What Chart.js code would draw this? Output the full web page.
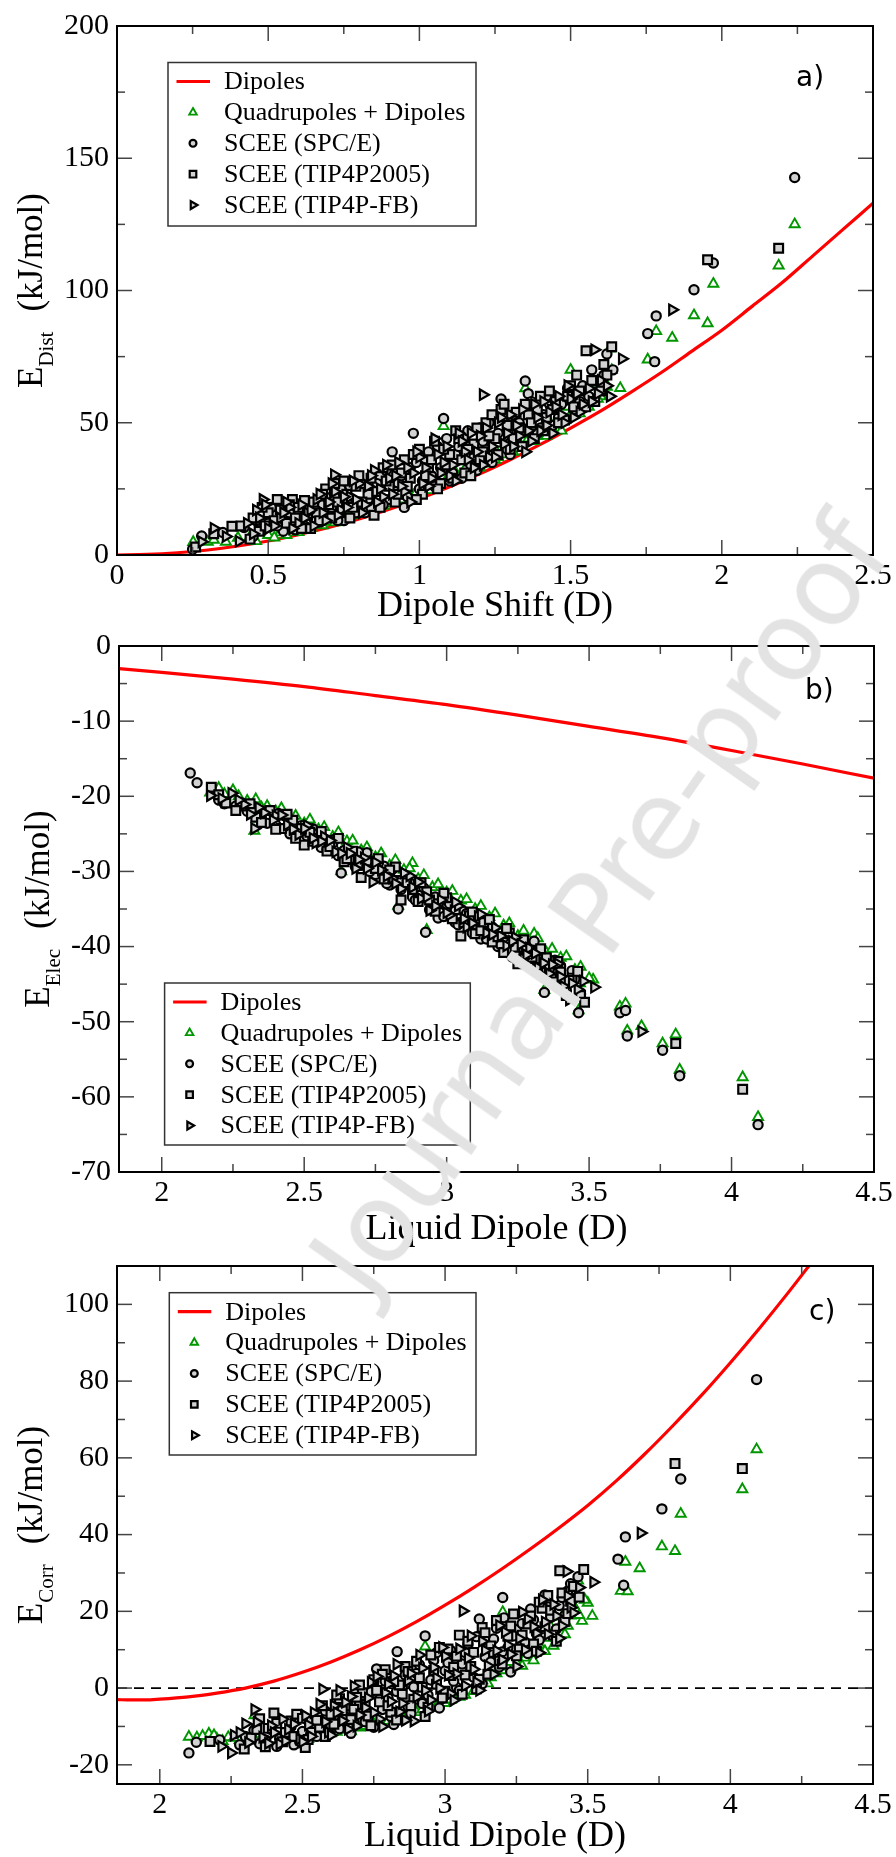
<!DOCTYPE html>
<html><head><meta charset="utf-8">
<script src="https://cdn.jsdelivr.net/npm/chart.js@4.4.1/dist/chart.umd.min.js"></script>
<style>
html,body{margin:0;padding:0;background:#fff;}
body{width:896px;height:1857px;position:relative;overflow:hidden;}
canvas{position:absolute;left:0;}
#wm{position:absolute;left:600px;top:905px;transform:translate(-50%,-50%) rotate(-55deg);font-family:'DejaVu Sans';font-size:110px;color:#e3e3e3;white-space:nowrap;pointer-events:none;line-height:1;z-index:5;}
</style></head>
<body>
<canvas id="ca"></canvas>
<canvas id="cb"></canvas>
<canvas id="cc"></canvas>
<div id="wm">Journal Pre-proof</div>
<script>
// ---------------- DATA ----------------
const seriesNames = ['Dipoles','Quadrupoles + Dipoles','SCEE (SPC/E)','SCEE (TIP4P2005)','SCEE (TIP4P-FB)'];
const panelLabels = ['a)','b)','c)'];
const xTitles = ['Dipole Shift (D)','Liquid Dipole (D)','Liquid Dipole (D)'];
const yTitleMain = ['E','E','E'];
const yTitleSub = ['Dist','Elec','Corr'];
const yTitleUnit = '(kJ/mol)';

const xTicksA = [0,0.5,1,1.5,2,2.5];
const yTicksA = [0,50,100,150,200];
const xTicksBC = [2,2.5,3,3.5,4,4.5];
const yTicksB = [0,-10,-20,-30,-40,-50,-60,-70];
const yTicksC = [-20,0,20,40,60,80,100];

// Panel a: dipole shift vs E_Dist
const dipolesA = [[0,0],[0.1,0.2],[0.2,0.85],[0.3,1.9],[0.4,3.4],[0.5,5.3],[0.6,7.7],[0.7,10.4],[0.8,13.6],[0.9,17.3],[1.0,21.3],[1.1,25.8],[1.2,30.7],[1.3,36],[1.4,41.8],[1.5,48],[1.6,54.5],[1.7,61.6],[1.8,69],[1.9,77],[2.0,85],[2.1,94],[2.2,103],[2.3,113],[2.4,123],[2.5,133]];
const quadA = [[0.252,4.9],[0.3,5],[0.32,5.7],[0.36,5],[0.4,6.5],[0.44,7],[0.48,18],[0.5,7.5],[0.54,8.5],[0.58,9.5],[0.62,10],[0.66,11.5],[0.7,12.5],[0.74,14],[0.78,15],[0.82,16],[0.86,18],[0.9,19.5],[0.94,21],[0.98,22.5],[1.0,24],[1.03,24.5],[1.06,26.5],[1.08,48.7],[1.1,28],[1.13,29],[1.16,31],[1.2,33],[1.23,34.5],[1.26,37],[1.28,38],[1.3,40],[1.33,42],[1.35,63],[1.36,44],[1.38,43],[1.4,46],[1.42,45],[1.45,48],[1.47,47],[1.5,53],[1.5,70],[1.52,55],[1.55,58],[1.57,62],[1.6,60],[1.62,63.6],[1.63,78],[1.636,69.9],[1.664,63.1],[1.755,73.9],[1.783,84.6],[1.836,82.1],[1.908,90.6],[1.953,87.6],[1.972,102.5],[2.188,109.4],[2.241,125],
  [0.46,5.2],[0.52,6.6],[0.56,7.5],[0.6,8.6],[0.64,10.2],[0.68,11.2],[0.72,12.3],[0.76,14.2],[0.8,15.5],[0.84,17.1],[0.88,18.6],[0.92,20.5],[0.96,22.4],[0.99,23.8],[1.02,26],[1.05,27.5],[1.09,28.7],[1.12,31.2],[1.15,32.4],[1.18,34.6],[1.22,36.5],[1.25,36],[1.27,40],[1.29,41.5],[1.31,39],[1.32,44.5],[1.34,45.6],[1.37,47],[1.39,45],[1.41,49],[1.43,50.5],[1.44,47.5],[1.46,52],[1.48,51],[1.49,56],[1.51,58],[1.53,53.5],[1.54,60],[1.56,56],[1.58,64.5],[1.59,59],[1.61,66]];
const spceA = [[0.25,2.2],[0.28,7.2],[0.35,8.5],[0.42,10.4],[0.45,7],[0.5,12],[0.52,15],[0.55,9],[0.58,13],[0.6,17],[0.62,11],[0.65,14],[0.68,19],[0.7,16],[0.72,22],[0.75,13],[0.77,26],[0.8,20],[0.82,16],[0.85,24],[0.87,30],[0.9,21],[0.91,39],[0.93,27],[0.95,18],[0.97,33],[0.98,46],[1.0,25],[1.02,36],[1.04,30],[1.06,41],[1.08,51.6],[1.1,28],[1.12,38],[1.15,44],[1.17,34],[1.2,48],[1.22,40],[1.25,52],[1.27,59],[1.28,45],[1.3,38],[1.33,50],[1.35,65.8],[1.36,61],[1.38,55],[1.4,48],[1.43,57],[1.46,52],[1.5,62],[1.53,58],[1.57,70],[1.6,65],[1.62,76],[1.64,70],[1.755,83.7],[1.778,73.1],[1.783,90.4],[1.908,100.3],[1.972,110.4],[2.241,142.7],
  [0.46,13],[0.48,9.5],[0.51,18],[0.53,11],[0.57,16],[0.59,9.5],[0.61,14],[0.63,19],[0.67,12.5],[0.69,22],[0.71,18],[0.73,13],[0.74,25],[0.76,20],[0.79,16],[0.81,27],[0.83,21],[0.84,18],[0.86,27],[0.88,19],[0.89,32],[0.92,24],[0.94,30],[0.96,22],[0.99,35],[1.01,28],[1.03,39],[1.05,26],[1.07,33],[1.09,44],[1.11,31],[1.13,41],[1.14,29],[1.16,47],[1.18,37],[1.19,32],[1.21,43],[1.23,50],[1.24,35],[1.26,46],[1.29,40],[1.31,53],[1.32,44],[1.34,48],[1.37,58],[1.39,46],[1.41,53],[1.42,60],[1.44,49],[1.47,57],[1.49,63],[1.51,55],[1.54,64],[1.56,60],[1.58,66],[1.61,68]];
const tip4p2005A = [[0.26,3],[0.32,8],[0.38,10.9],[0.41,11],[0.44,6],[0.47,9],[0.5,16],[0.53,21],[0.56,12],[0.58,21],[0.6,18],[0.62,20.6],[0.64,10],[0.66,16],[0.69,25],[0.71,14],[0.73,20],[0.75,28],[0.78,18],[0.8,30],[0.83,23],[0.85,15],[0.88,33],[0.9,26],[0.92,20],[0.95,36],[0.97,29],[1.0,40],[1.01,23],[1.03,33],[1.05,43],[1.07,27],[1.1,38],[1.12,47],[1.15,31],[1.18,42],[1.2,36],[1.22,50],[1.25,44],[1.27,55],[1.28,57],[1.3,40],[1.33,48],[1.36,53],[1.38,44],[1.4,60],[1.42,52],[1.45,58],[1.48,51],[1.5,64],[1.52,68],[1.55,56],[1.551,77.2],[1.6,62],[1.62,68],[1.636,78.7],[1.953,111.6],[2.188,116],
  [0.45,14],[0.48,18],[0.49,11],[0.52,13],[0.54,17],[0.57,19],[0.59,14],[0.61,10],[0.63,15],[0.65,20],[0.67,13],[0.68,23],[0.7,19],[0.72,27],[0.74,16],[0.76,23],[0.77,14],[0.79,26],[0.81,20],[0.84,29],[0.86,24],[0.87,18],[0.89,28],[0.91,34],[0.93,23],[0.94,31],[0.96,26],[0.98,38],[0.99,21],[1.02,30],[1.04,36],[1.06,25],[1.08,40],[1.09,34],[1.11,29],[1.13,44],[1.14,36],[1.16,40],[1.17,30],[1.19,48],[1.21,39],[1.23,45],[1.24,53],[1.26,38],[1.29,49],[1.31,44],[1.32,54],[1.34,41],[1.35,57],[1.37,50],[1.39,55],[1.41,47],[1.43,62],[1.44,55],[1.46,50],[1.49,60],[1.51,56],[1.53,62],[1.57,66],[1.58,58],[1.61,72]];
const tip4pfbA = [[0.28,5],[0.32,10.1],[0.36,7],[0.403,5.2],[0.43,12],[0.46,17],[0.482,21],[0.5,10],[0.54,14],[0.57,18],[0.6,12],[0.63,16],[0.66,21],[0.69,13],[0.718,30.3],[0.72,24],[0.74,17],[0.77,22],[0.8,27],[0.82,19],[0.85,32],[0.88,22],[0.9,29],[0.93,35],[0.95,24],[0.98,31],[1.0,37],[1.03,26],[1.05,44],[1.08,35],[1.1,30],[1.13,46],[1.15,39],[1.18,33],[1.2,45],[1.21,60.6],[1.23,37],[1.26,50],[1.28,42],[1.3,53],[1.33,45],[1.35,39],[1.38,57],[1.4,47],[1.43,54],[1.46,60],[1.48,50],[1.5,59],[1.53,54],[1.56,63],[1.579,77.6],[1.6,66],[1.63,60],[1.67,74.2],[1.836,92.7],
  [0.45,8],[0.47,14],[0.49,19],[0.52,11],[0.55,16],[0.56,20],[0.58,10],[0.61,19],[0.62,14],[0.64,17],[0.65,11],[0.67,23],[0.68,16],[0.7,20],[0.71,27],[0.73,15],[0.75,22],[0.76,18],[0.78,28],[0.79,21],[0.81,16],[0.83,26],[0.84,30],[0.86,20],[0.87,25],[0.89,34],[0.91,23],[0.92,30],[0.94,26],[0.96,33],[0.97,20],[0.99,39],[1.01,27],[1.02,33],[1.04,29],[1.06,38],[1.07,31],[1.09,41],[1.11,34],[1.12,28],[1.14,43],[1.16,36],[1.17,46],[1.19,39],[1.21,34],[1.22,48],[1.24,41],[1.25,37],[1.27,52],[1.29,46],[1.31,41],[1.32,49],[1.34,55],[1.36,47],[1.37,43],[1.39,52],[1.41,58],[1.42,49],[1.44,46],[1.45,56],[1.47,53],[1.49,64],[1.51,52],[1.52,61],[1.54,57],[1.57,58],[1.59,61],[1.62,64]];

// Panel b: liquid dipole vs E_Elec
const dipolesB = [[1.85,-3.0],[2.0,-3.5],[2.25,-4.4],[2.5,-5.4],[2.75,-6.6],[3.0,-7.8],[3.25,-9.2],[3.5,-10.7],[3.75,-12.2],[4.0,-13.9],[4.25,-15.7],[4.5,-17.6]];
const quadB = [[2.17,-19.5],[2.25,-19.2],[2.3,-20.6],[2.325,-24.6],[2.35,-21.5],[2.4,-22],[2.45,-22.8],[2.5,-23.6],[2.55,-24.4],[2.6,-25.4],[2.63,-30],[2.65,-26],[2.7,-27.2],[2.75,-28.1],[2.8,-29.2],[2.83,-34.6],[2.85,-29.8],[2.88,-28.9],[2.9,-31],[2.93,-37.8],[2.95,-32.1],[3.0,-32.8],[3.05,-33.9],[3.1,-35],[3.15,-36.1],[3.2,-37.2],[3.25,-38.6],[3.3,-39.6],[3.307,-38.3],[3.343,-45.8],[3.35,-40.8],[3.4,-41.5],[3.45,-43.1],[3.463,-48.5],[3.468,-44.9],[3.514,-44.4],[3.608,-48],[3.628,-47.6],[3.634,-51.2],[3.684,-50.6],[3.758,-52.9],[3.804,-51.7],[3.818,-56.4],[4.039,-57.4],[4.093,-62.7],
  [2.2,-18.9],[2.22,-19.7],[2.27,-20],[2.33,-20.4],[2.37,-21.3],[2.42,-21.6],[2.47,-22.6],[2.52,-23.1],[2.57,-24.1],[2.62,-24.8],[2.67,-25.9],[2.72,-26.8],[2.77,-27.6],[2.82,-28.5],[2.87,-29.6],[2.92,-30.5],[2.97,-31.7],[3.02,-32.6],[3.07,-33.7],[3.12,-34.6],[3.17,-35.6],[3.22,-36.9],[3.27,-37.9],[3.32,-38.9],[3.37,-40.3],[3.42,-41.3],[3.47,-42.7],[3.5,-44.2]];
const spceB = [[2.10,-16.9],[2.124,-18.2],[2.2,-20.5],[2.26,-21.3],[2.3,-22],[2.35,-22.5],[2.4,-23.8],[2.43,-22.6],[2.47,-24.6],[2.5,-25.8],[2.53,-24.3],[2.56,-26.8],[2.6,-25.8],[2.62,-27.9],[2.63,-30.2],[2.66,-28.4],[2.7,-29.2],[2.72,-27.5],[2.75,-30.4],[2.78,-29.3],[2.8,-31.8],[2.83,-35],[2.85,-31.2],[2.88,-33.4],[2.9,-32],[2.926,-38.1],[2.95,-33.8],[2.97,-36.2],[3.0,-34.7],[3.03,-36.8],[3.06,-35.3],[3.1,-37.5],[3.12,-39],[3.15,-37.2],[3.18,-40],[3.2,-38.8],[3.23,-41.4],[3.26,-40.1],[3.3,-42.5],[3.307,-39.3],[3.33,-43.5],[3.343,-46.1],[3.37,-44.2],[3.4,-42.6],[3.42,-45.8],[3.45,-44.3],[3.463,-48.8],[3.608,-48.8],[3.628,-48.5],[3.634,-51.9],[3.758,-53.8],[3.818,-57.2],[4.093,-63.7],
  [2.22,-21],[2.28,-20.9],[2.32,-21.7],[2.37,-23.6],[2.41,-22.3],[2.45,-25],[2.49,-23.9],[2.51,-25.3],[2.55,-24.9],[2.58,-27.1],[2.61,-25.7],[2.64,-27.2],[2.68,-29.4],[2.69,-27.4],[2.73,-30],[2.76,-28.9],[2.79,-31.6],[2.81,-29.7],[2.84,-32.4],[2.87,-31.5],[2.89,-33.8],[2.92,-32.2],[2.94,-35.1],[2.96,-33.4],[2.99,-36],[3.01,-34.3],[3.04,-37.1],[3.07,-35.6],[3.09,-38.2],[3.11,-36.6],[3.14,-39],[3.16,-37.4],[3.19,-39.8],[3.21,-38.3],[3.24,-40.9],[3.27,-39.5],[3.29,-42.1],[3.32,-40.6],[3.35,-43],[3.38,-41.8],[3.41,-44.5],[3.44,-43.2],[3.47,-46.3]];
const tip4p2005B = [[2.174,-18.8],[2.225,-20.9],[2.28,-21.3],[2.33,-22.8],[2.38,-21.9],[2.42,-24.3],[2.46,-23.2],[2.5,-26.5],[2.52,-24.8],[2.55,-25.6],[2.58,-27.3],[2.6,-26.1],[2.64,-28.7],[2.67,-27.3],[2.7,-30.8],[2.73,-29],[2.76,-28.3],[2.79,-30.2],[2.82,-29.4],[2.84,-33.8],[2.86,-31.5],[2.9,-34],[2.93,-32.7],[2.96,-35.3],[3.0,-33.5],[3.02,-36.3],[3.05,-38.6],[3.08,-35.9],[3.1,-38.3],[3.13,-36.8],[3.16,-39.4],[3.2,-40.8],[3.22,-38.2],[3.25,-42.3],[3.28,-40.5],[3.31,-41.6],[3.35,-41.5],[3.38,-44.7],[3.4,-43.4],[3.42,-46.5],[3.44,-44.2],[3.47,-46.5],[3.484,-47.4],[3.804,-52.9],[4.039,-59],
  [2.2,-19.8],[2.26,-21.9],[2.31,-21],[2.35,-23.5],[2.4,-24.4],[2.44,-22.4],[2.47,-25.6],[2.49,-24.3],[2.53,-26],[2.56,-24.7],[2.59,-26.7],[2.62,-25.6],[2.65,-28.3],[2.69,-28.9],[2.72,-28.6],[2.75,-29.6],[2.78,-31],[2.8,-29.8],[2.83,-31.2],[2.88,-32.4],[2.91,-31.5],[2.94,-33.8],[2.97,-34.3],[2.99,-32.9],[3.03,-35.1],[3.06,-36.8],[3.09,-35.4],[3.12,-37.9],[3.15,-36.4],[3.18,-38.7],[3.21,-37.6],[3.24,-40.1],[3.27,-39.1],[3.3,-41.4],[3.33,-40.3],[3.36,-42.9],[3.39,-42],[3.43,-44.5],[3.46,-43.3]];
const tip4pfbB = [[2.17,-19.9],[2.245,-19.6],[2.29,-21.1],[2.325,-24.3],[2.36,-22.2],[2.4,-22.6],[2.44,-23.8],[2.48,-25.1],[2.51,-23.9],[2.54,-26.2],[2.57,-25.4],[2.61,-27.4],[2.65,-26.8],[2.68,-29.6],[2.71,-28.2],[2.74,-31.4],[2.77,-29.8],[2.81,-30.9],[2.84,-32.3],[2.87,-30.6],[2.91,-33.6],[2.94,-35.2],[2.98,-33.8],[3.01,-35.8],[3.04,-34.6],[3.07,-37.4],[3.11,-36],[3.14,-38.2],[3.17,-37.5],[3.21,-39.9],[3.24,-38.8],[3.27,-41.6],[3.29,-40.2],[3.32,-42.8],[3.36,-43.6],[3.39,-42.3],[3.41,-45.3],[3.43,-47.1],[3.46,-45.7],[3.518,-45.4],[3.684,-51.3],
  [2.21,-20.3],[2.27,-20.5],[2.31,-22.4],[2.34,-21.5],[2.39,-23.2],[2.42,-22.5],[2.46,-24.4],[2.5,-24.3],[2.53,-25.6],[2.56,-26],[2.59,-25.9],[2.63,-27.6],[2.66,-27.6],[2.69,-28.4],[2.72,-29.6],[2.75,-28.8],[2.79,-30.6],[2.82,-31.6],[2.85,-30.2],[2.88,-32.1],[2.9,-31.4],[2.93,-33.4],[2.96,-34.6],[3.0,-35.5],[3.03,-34.1],[3.06,-36.3],[3.09,-36.9],[3.12,-35.7],[3.16,-38.4],[3.19,-38.6],[3.23,-39.3],[3.26,-39.7],[3.28,-41.1],[3.31,-40.9],[3.34,-42.2],[3.37,-42.4],[3.4,-44],[3.44,-44.9],[3.48,-44.6]];

// Panel c: liquid dipole vs E_Corr
const dipolesC = [[1.85,-3.0],[1.9,-3.1],[1.95,-3.1],[2.0,-2.9],[2.1,-2.3],[2.2,-1.3],[2.3,0.0],[2.4,1.8],[2.5,4.1],[2.6,6.8],[2.7,9.9],[2.8,13.4],[2.9,17.3],[3.0,21.6],[3.1,26.2],[3.2,31.1],[3.3,36.3],[3.4,41.8],[3.5,47.6],[3.6,54.0],[3.7,61.0],[3.8,68.5],[3.9,76.4],[4.0,84.8],[4.1,93.6],[4.2,102.8],[4.3,112.4]];
const zeroLineC = [[1.85,0],[4.5,0]];
const quadC = [[2.102,-12.7],[2.13,-12.9],[2.172,-11.9],[2.2,-13.2],[2.24,-12.8],[2.28,-13.6],[2.332,-7.1],[2.35,-13.8],[2.4,-13.4],[2.45,-13.5],[2.5,-12.8],[2.55,-12.2],[2.6,-11.8],[2.65,-10.9],[2.7,-10.3],[2.75,-9.3],[2.8,-8.6],[2.85,-7.4],[2.9,-6.3],[2.93,10.8],[2.95,-5],[3.0,-3.9],[3.05,-2.3],[3.1,-0.8],[3.15,1.2],[3.18,3.8],[3.202,19.8],[3.22,5.2],[3.25,6.6],[3.28,7.9],[3.3,9.5],[3.33,11.3],[3.36,13.1],[3.38,11],[3.4,15.8],[3.42,14],[3.44,18.9],[3.46,20.2],[3.466,28],[3.48,17.5],[3.5,22.2],[3.516,18.8],[3.616,25.3],[3.632,32.9],[3.64,25.2],[3.682,31.2],[3.76,36.9],[3.806,35.7],[3.826,45.4],[4.042,51.8],[4.092,62.2],
  [2.15,-12.5],[2.19,-12.3],[2.22,-13.8],[2.26,-13],[2.3,-13.4],[2.33,-12.9],[2.37,-14.2],[2.42,-13.8],[2.47,-13],[2.52,-13.3],[2.57,-12.6],[2.62,-11.4],[2.67,-11.3],[2.72,-9.9],[2.77,-9.6],[2.82,-8],[2.87,-7.6],[2.92,-5.6],[2.97,-4.8],[3.02,-3],[3.07,-1.8],[3.12,0.3],[3.13,2],[3.16,2.8],[3.2,4.6],[3.23,6.8],[3.27,5.8],[3.29,10.8],[3.31,7.2],[3.34,13.9],[3.35,9.6],[3.37,16],[3.39,13],[3.41,18.6],[3.43,16.2],[3.45,21.6],[3.47,19],[3.49,23]];
const spceC = [[2.102,-16.9],[2.128,-14.1],[2.21,-13.5],[2.28,-14.8],[2.33,-11],[2.37,-13.5],[2.41,-15.2],[2.44,-12.2],[2.47,-14.8],[2.5,-11.3],[2.52,-8.5],[2.55,-12.6],[2.58,-6],[2.6,-9.8],[2.62,-3.4],[2.65,-7.5],[2.67,-11.8],[2.7,-4.2],[2.72,-8.8],[2.74,-1],[2.76,5],[2.78,-5.6],[2.8,-2.5],[2.82,-9.5],[2.832,9.5],[2.85,0.5],[2.87,-4.8],[2.9,3.8],[2.93,13.6],[2.94,-1.8],[2.96,7.2],[2.98,-5.2],[3.0,4.5],[3.02,9.8],[3.04,0.2],[3.06,6.3],[3.08,11.5],[3.1,2.8],[3.12,18],[3.14,8.2],[3.17,12.8],[3.19,5.5],[3.202,23.6],[3.206,18.3],[3.22,10.5],[3.25,15.2],[3.28,12],[3.3,20.6],[3.32,14.2],[3.35,24.3],[3.37,18.6],[3.4,21.5],[3.43,25.3],[3.45,23.3],[3.466,29],[3.606,33.6],[3.626,26.8],[3.632,39.4],[3.76,46.7],[3.826,54.5],[4.092,80.4],
  [2.3,-12.6],[2.35,-14.5],[2.39,-10.8],[2.42,-13.2],[2.46,-10],[2.49,-13.9],[2.53,-12],[2.56,-9.2],[2.59,-12.3],[2.61,-7.4],[2.63,-10.6],[2.66,-4.6],[2.68,-9],[2.71,-1.8],[2.73,-6.6],[2.75,-10.2],[2.77,-2.9],[2.79,1.8],[2.81,-7.4],[2.83,-0.9],[2.86,3.4],[2.88,-6.6],[2.89,0.3],[2.91,6.1],[2.92,-4],[2.95,2.1],[2.97,9.2],[2.99,-2.7],[3.01,6.6],[3.03,1.8],[3.05,-0.6],[3.07,9.3],[3.09,4.6],[3.11,13.4],[3.13,1.1],[3.15,10.6],[3.16,6.8],[3.18,15.6],[3.2,9.4],[3.23,4.2],[3.24,13.6],[3.27,16.8],[3.29,9],[3.31,17.8],[3.33,12.5],[3.36,21.2],[3.39,15.4],[3.41,23.6],[3.42,19],[3.44,27.2]];
const tip4p2005C = [[2.176,-13.9],[2.296,-15.9],[2.32,-13],[2.35,-8],[2.38,-10.5],[2.4,-6.5],[2.43,-14],[2.46,-8.6],[2.48,-6.8],[2.51,-15.5],[2.53,-11.5],[2.56,-10.2],[2.6,-6.8],[2.63,-2.8],[2.66,-9.7],[2.68,-5.5],[2.71,-1.2],[2.73,-7.3],[2.75,2.2],[2.77,-3.6],[2.79,4.8],[2.81,-6.3],[2.84,0.8],[2.86,5.6],[2.89,-2.9],[2.91,2.7],[2.93,-7.4],[2.95,8.6],[2.97,1],[3.0,-0.8],[3.01,10.2],[3.03,5.4],[3.05,13.8],[3.07,3.4],[3.1,9.3],[3.12,2.3],[3.13,15.8],[3.16,11],[3.19,7.2],[3.22,13.5],[3.24,19.3],[3.26,10.2],[3.29,16.7],[3.31,11.5],[3.34,20.8],[3.36,24.1],[3.38,13.8],[3.402,30.6],[3.42,17.4],[3.44,22.6],[3.47,23.7],[3.486,30.9],[3.806,58.5],[4.042,57.2],
  [2.34,-10.8],[2.37,-15.3],[2.41,-9.2],[2.44,-11.6],[2.47,-12.6],[2.5,-7.9],[2.52,-13.4],[2.55,-8.4],[2.57,-4.6],[2.58,-12.6],[2.61,-9.4],[2.62,-1.8],[2.64,-5.9],[2.67,-8.2],[2.69,-2.4],[2.7,0.8],[2.72,-4.4],[2.74,-9.8],[2.76,-0.6],[2.78,3.6],[2.8,-4.6],[2.82,1.7],[2.83,-8.3],[2.85,-1.6],[2.87,4.3],[2.88,-4.6],[2.9,7],[2.92,0.2],[2.94,-5],[2.96,4.6],[2.98,10.6],[2.99,-2.6],[3.02,3.3],[3.04,8.3],[3.06,-1.6],[3.08,12.2],[3.09,5.6],[3.11,-0.2],[3.14,14.4],[3.15,3.6],[3.17,9.3],[3.18,17.6],[3.2,6.3],[3.23,16.2],[3.25,8.4],[3.27,13.8],[3.3,18.8],[3.32,9.6],[3.33,22.4],[3.35,16],[3.37,20.3],[3.39,12.2],[3.41,24.8],[3.43,19.4],[3.45,26.5]];
const tip4pfbC = [[2.216,-15.2],[2.25,-16.9],[2.26,-12.3],[2.3,-9.3],[2.332,-5.6],[2.36,-12.8],[2.39,-9.8],[2.42,-14.6],[2.45,-10.8],[2.49,-13.3],[2.52,-9.6],[2.54,-6.4],[2.57,-0.3],[2.59,-11.5],[2.61,-4.6],[2.64,-8.5],[2.67,-2.2],[2.69,-9.9],[2.72,-5.1],[2.74,1.5],[2.77,-8.1],[2.79,-1.2],[2.82,3.2],[2.84,-6.2],[2.87,1.9],[2.89,-8.6],[2.92,5.2],[2.95,-3.1],[2.97,2.6],[3.0,8.3],[3.02,-1.5],[3.04,3.7],[3.062,20.1],[3.08,7.8],[3.11,1.5],[3.13,12.2],[3.15,5.8],[3.18,9.7],[3.21,14.6],[3.23,8.8],[3.26,12.9],[3.29,18],[3.32,14.3],[3.35,17.2],[3.38,21.8],[3.41,16.2],[3.426,30.4],[3.44,21],[3.47,26.2],[3.52,27.6],[3.686,40.4],
  [2.28,-11.6],[2.31,-14.2],[2.34,-8.9],[2.38,-14.4],[2.4,-11.6],[2.43,-8.1],[2.44,-13.8],[2.47,-9.4],[2.5,-14],[2.51,-7.2],[2.53,-12.6],[2.56,-4.2],[2.58,-8.8],[2.6,-12.3],[2.62,-6.4],[2.63,-0.6],[2.65,-3.7],[2.66,-10.7],[2.68,0.5],[2.7,-7],[2.73,-2.6],[2.75,-6.4],[2.76,3],[2.78,-10],[2.8,1],[2.81,-3.5],[2.83,6.2],[2.85,-4],[2.86,-8.4],[2.88,3.8],[2.9,-2.3],[2.91,8.6],[2.93,-0.6],[2.94,-6],[2.96,5.4],[2.98,0],[2.99,10.6],[3.01,3.4],[3.03,-3.2],[3.05,10.2],[3.07,0.6],[3.09,13.6],[3.1,4.9],[3.12,-0.6],[3.14,9.8],[3.17,3.6],[3.19,16.3],[3.2,7.4],[3.22,11.2],[3.25,5.6],[3.27,19.8],[3.28,10],[3.31,16],[3.33,9.2],[3.34,23],[3.36,14],[3.39,18.8],[3.4,13],[3.43,24],[3.45,19.6]];

// ---------------- STYLE ----------------
const RED = '#ff0000', GREEN = 'rgb(0,150,0)', FILL = '#d2d2d2';
const SERIF = "'Liberation Serif','Times New Roman',serif";
const styles = [
  {kind:'line'},
  {pointStyle:'triangle', radius:5.8, rotation:0, borderColor:GREEN, backgroundColor:'#ffffff', borderWidth:1.9},
  {pointStyle:'circle', radius:4.6, rotation:0, borderColor:'#000', backgroundColor:FILL, borderWidth:2.2},
  {pointStyle:'rect', radius:6.2, rotation:0, borderColor:'#000', backgroundColor:FILL, borderWidth:2.2},
  {pointStyle:'triangle', radius:6, rotation:90, borderColor:'#000', backgroundColor:FILL, borderWidth:2.2}
];

function scatterDs(i, data) {
  const s = styles[i];
  return {label:seriesNames[i], data, showLine:false, pointStyle:s.pointStyle, pointRadius:s.radius,
    pointRotation:s.rotation, pointBorderColor:s.borderColor, pointBackgroundColor:s.backgroundColor,
    pointBorderWidth:s.borderWidth, order:5-i};
}
function lineDs(data) {
  return {label:seriesNames[0], data, showLine:true, pointRadius:0, borderColor:RED, borderWidth:3.2,
    cubicInterpolationMode:'monotone', fill:false, order:9};
}

const decor = {
  id:'decor',
  afterDatasetsDraw(chart, args, o) {
    const ctx = chart.ctx, a = chart.chartArea;
    const xs = chart.scales.x, ys = chart.scales.y;
    ctx.save();
    ctx.strokeStyle = '#444'; ctx.lineWidth = 1.5;
    const seg = (x1,y1,x2,y2) => {ctx.beginPath(); ctx.moveTo(x1,y1); ctx.lineTo(x2,y2); ctx.stroke();};
    const xMaj = o.xMajor, yMaj = o.yMajor;
    const eps = 1e-9;
    for (let v = Math.ceil(xs.min/o.xMinor - eps)*o.xMinor; v <= xs.max + eps; v += o.xMinor) {
      const isMaj = xMaj.some(m => Math.abs(m - v) < 1e-6);
      const len = isMaj ? 15 : 8;
      const px = xs.getPixelForValue(v);
      seg(px, a.bottom, px, a.bottom - len); seg(px, a.top, px, a.top + len);
    }
    for (let v = Math.ceil(ys.min/o.yMinor - eps)*o.yMinor; v <= ys.max + eps; v += o.yMinor) {
      const isMaj = yMaj.some(m => Math.abs(m - v) < 1e-6);
      const len = isMaj ? 15 : 8;
      const py = ys.getPixelForValue(v);
      seg(a.left, py, a.left + len, py); seg(a.right, py, a.right - len, py);
    }
    ctx.strokeStyle = '#000'; ctx.lineWidth = 2;
    ctx.strokeRect(a.left, a.top, a.right - a.left, a.bottom - a.top);
    // legend
    const L = o.legend;
    ctx.fillStyle = '#fff'; ctx.fillRect(L.x, L.y, L.w, L.h);
    ctx.strokeStyle = '#333'; ctx.lineWidth = 1.5; ctx.strokeRect(L.x, L.y, L.w, L.h);
    ctx.font = '26px ' + SERIF; ctx.textBaseline = 'middle'; ctx.textAlign = 'left';
    for (let i = 0; i < seriesNames.length; i++) {
      const ry = L.y + 19 + 30.9*i;
      if (i === 0) {
        ctx.strokeStyle = RED; ctx.lineWidth = 3.2; seg(L.x + 8.5, ry, L.x + 42, ry);
      } else {
        const s = styles[i];
        ctx.strokeStyle = s.borderColor; ctx.fillStyle = s.backgroundColor; ctx.lineWidth = s.borderWidth;
        Chart.helpers.drawPoint(ctx, {pointStyle:s.pointStyle, radius:s.radius*0.75, rotation:s.rotation, borderWidth:s.borderWidth}, L.x + 25, ry);
      }
      ctx.fillStyle = '#000';
      ctx.fillText(seriesNames[i], L.x + 56, ry + 1);
    }
    // y title with subscript
    const T = o.ytitle;
    const cy = (a.top + a.bottom)/2;
    ctx.translate(T.x, cy); ctx.rotate(-Math.PI/2);
    const fMain = '35px ' + SERIF, fSub = '21px ' + SERIF;
    ctx.font = fMain; const wE = ctx.measureText(T.main).width; const wU = ctx.measureText(yTitleUnit).width;
    ctx.font = fSub; const wS = ctx.measureText(T.sub).width;
    const gap = 20, total = wE + wS + gap + wU;
    let x0 = -total/2;
    ctx.fillStyle = '#000'; ctx.textBaseline = 'alphabetic';
    ctx.font = fMain; ctx.fillText(T.main, x0, 0);
    ctx.font = fSub; ctx.fillText(T.sub, x0 + wE, 11);
    ctx.font = fMain; ctx.fillText(yTitleUnit, x0 + wE + wS + gap, 0);
    ctx.setTransform(1,0,0,1,0,0);
    // panel label
    ctx.font = "28px 'DejaVu Sans', sans-serif"; ctx.textBaseline = 'middle'; ctx.textAlign = 'left'; ctx.fillStyle = '#000';
    ctx.fillText(o.label.text, o.label.x, o.label.y);
    ctx.restore();
  }
};

function makePanel(id, top, height, area, xr, yr, xt, yt, xMinor, yMinor, datasets, deco, xtitle) {
  const cv = document.getElementById(id);
  cv.width = 896; cv.height = height; cv.style.top = top + 'px';
  const tickFont = {family:SERIF, size:30};
  return new Chart(cv, {
    type:'scatter',
    data:{datasets},
    options:{
      responsive:false, animation:false, devicePixelRatio:1, events:[],
      layout:{padding:{top:area.t, right:896 - area.r, left:0, bottom:0}},
      plugins:{legend:{display:false}, tooltip:{enabled:false},
        decor:Object.assign({xMajor:xt, yMajor:yt, xMinor, yMinor}, deco)},
      scales:{
        x:{type:'linear', position:'bottom', min:xr[0], max:xr[1],
          afterFit(s){ s.height = height - area.b; },
          afterBuildTicks(s){ s.ticks = xt.map(v => ({value:v})); },
          grid:{display:false, drawTicks:false}, border:{display:false},
          ticks:{font:tickFont, color:'#000', padding:3, maxRotation:0, autoSkip:false, callback:(v) => String(v)},
          title:{display:true, text:xtitle, font:{family:SERIF, size:36}, color:'#000', padding:0}},
        y:{type:'linear', position:'left', min:yr[0], max:yr[1],
          afterFit(s){ s.width = area.l; },
          afterBuildTicks(s){ s.ticks = yt.map(v => ({value:v})); },
          grid:{display:false, drawTicks:false}, border:{display:false},
          ticks:{font:tickFont, color:'#000', padding:8, autoSkip:false, callback:(v) => String(v)}}
      }
    },
    plugins:[decor]
  });
}

makePanel('ca', 0, 628, {l:117, r:873, t:25, b:555}, [0,2.5], [0,200], xTicksA, yTicksA, 0.25, 25,
  [lineDs(dipolesA), scatterDs(1, quadA), scatterDs(2, spceA), scatterDs(3, tip4p2005A), scatterDs(4, tip4pfbA)],
  {legend:{x:168, y:62.5, w:308, h:163.5}, ytitle:{main:yTitleMain[0], sub:yTitleSub[0], x:42}, label:{text:panelLabels[0], x:796, y:78.5}},
  xTitles[0]);

makePanel('cb', 620, 631, {l:119, r:874, t:23, b:552}, [1.85,4.5], [-70,0], xTicksBC, yTicksB, 0.25, 5,
  [lineDs(dipolesB), scatterDs(1, quadB), scatterDs(2, spceB), scatterDs(3, tip4p2005B), scatterDs(4, tip4pfbB)],
  {legend:{x:164.6, y:363, w:305.7, h:162}, ytitle:{main:yTitleMain[1], sub:yTitleSub[1], x:49}, label:{text:panelLabels[1], x:805, y:72}},
  xTitles[1]);

const zeroDs = {label:'zero', data:zeroLineC, showLine:true, pointRadius:0, borderColor:'#000', borderWidth:1.8, borderDash:[10,7], order:10};
makePanel('cc', 1240, 618, {l:117, r:873, t:15, b:544}, [1.85,4.5], [-25,110], xTicksBC, yTicksC, 0.25, 10,
  [lineDs(dipolesC), zeroDs, scatterDs(1, quadC), scatterDs(2, spceC), scatterDs(3, tip4p2005C), scatterDs(4, tip4pfbC)],
  {legend:{x:169.3, y:52.7, w:306.7, h:162.3}, ytitle:{main:yTitleMain[2], sub:yTitleSub[2], x:42}, label:{text:panelLabels[2], x:809, y:73}},
  xTitles[2]);
</script>
</body></html>
